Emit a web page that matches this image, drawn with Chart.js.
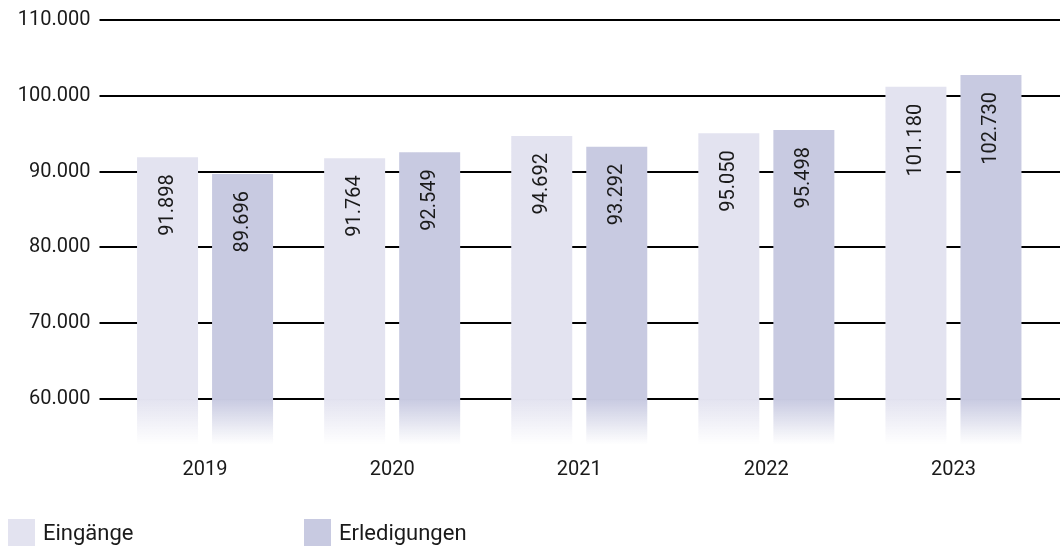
<!DOCTYPE html>
<html>
<head>
<meta charset="utf-8">
<script src="https://cdn.jsdelivr.net/npm/chart.js@4"></script>
<style>
  body { margin: 0; background: #fff; font-family: Roboto, sans-serif; }
  #wrap { position: relative; width: 1060px; height: 549px; }
  #legend { position: absolute; left: 8px; top: 519px; display: flex; font-size: 22px; color: #1a1a1a; }
  .item { display: flex; align-items: center; height: 27px; }
  .box { width: 27px; height: 27px; margin-right: 8px; }
</style>
</head>
<body>
<div id="wrap">
  <canvas id="chart" width="1060" height="549"></canvas>
  <div id="legend"></div>
</div>
<script>
const years = ["2019", "2020", "2021", "2022", "2023"];
const eingaenge = [91898, 91764, 94692, 95050, 101180];
const erledigungen = [89696, 92549, 93292, 95498, 102730];
const seriesNames = ["Eingänge", "Erledigungen"];
const yTicks = [60000, 70000, 80000, 90000, 100000, 110000];

const $light = "rgb(227, 227, 240)";
const $dark = "rgb(200, 202, 225)";
const $text = "#1a1a1a";

function fmt(v){
    return String(v).replace(/\B(?=(\d{3})+(?!\d))/g, ".");
}

// solid bar that fades out below the lowest tick
function fade(color){
    return ctx => {
        const chart = ctx.chart;
        const area = chart.chartArea;
        if (!area) return color;
        const y0 = chart.scales.y.getPixelForValue(yTicks[0]);
        const g = chart.ctx.createLinearGradient(0, y0, 0, area.bottom);
        g.addColorStop(0, color);
        g.addColorStop(1, color.replace("rgb", "rgba").replace(")", ", 0)"));
        return g;
    };
}

const gridLines = {
    id: 'gridLines',
    beforeDatasetsDraw(chart){
        const c = chart.ctx, y = chart.scales.y, a = chart.chartArea;
        c.save();
        c.strokeStyle = "#000";
        c.lineWidth = 2;
        y.ticks.forEach(t => {
            const py = Math.round(y.getPixelForValue(t.value));
            c.beginPath();
            c.moveTo(a.left - 12, py);
            c.lineTo(a.right + 14, py);
            c.stroke();
        });
        c.restore();
    }
};

const barLabels = {
    id: 'barLabels',
    afterDatasetsDraw(chart){
        const c = chart.ctx;
        c.save();
        c.font = "20px Roboto";
        c.fillStyle = $text;
        c.textAlign = "right";
        c.textBaseline = "middle";
        chart.data.datasets.forEach((ds, i) => {
            chart.getDatasetMeta(i).data.forEach((bar, j) => {
                c.save();
                c.translate(bar.x, bar.y + 17);
                c.rotate(-Math.PI / 2);
                c.fillText(fmt(ds.data[j]), 0, 0);
                c.restore();
            });
        });
        c.restore();
    }
};

new Chart(document.getElementById('chart'), {
    type: 'bar',
    data: {
        labels: years,
        datasets: [
            { label: seriesNames[0], data: eingaenge, backgroundColor: fade($light) },
            { label: seriesNames[1], data: erledigungen, backgroundColor: fade($dark) }
        ]
    },
    options: {
        responsive: false,
        animation: false,
        categoryPercentage: 0.802,
        barPercentage: 0.813,
        layout: { padding: { left: 18, right: 13, top: 20, bottom: 67 } },
        plugins: { legend: { display: false }, tooltip: { enabled: false } },
        scales: {
            x: {
                grid: { display: false, drawTicks: false },
                border: { display: false },
                afterFit: s => { s.height = 37.5; s.paddingLeft = 0; s.paddingRight = 0; },
                ticks: { color: $text, font: { family: "Roboto", size: 20 }, padding: 13 }
            },
            y: {
                min: 54000,
                max: 110000,
                grid: { display: false, drawTicks: false },
                border: { display: false },
                afterFit: s => { s.width = 93.5; s.paddingTop = 0; s.paddingBottom = 0; },
                afterBuildTicks: s => { s.ticks = yTicks.map(v => ({ value: v })); },
                ticks: {
                    color: $text,
                    padding: 21,
                    font: { family: "Roboto", size: 20 },
                    callback: v => fmt(v)
                }
            }
        }
    },
    plugins: [gridLines, barLabels]
});

// legend
const legend = document.getElementById('legend');
[$light, $dark].forEach((col, i) => {
    const it = document.createElement('div');
    it.className = 'item';
    it.style.width = i == 0 ? '296px' : 'auto';
    it.innerHTML = `<span class="box" style="background:${col}"></span><span>${seriesNames[i]}</span>`;
    legend.appendChild(it);
});
</script>
</body>
</html>
